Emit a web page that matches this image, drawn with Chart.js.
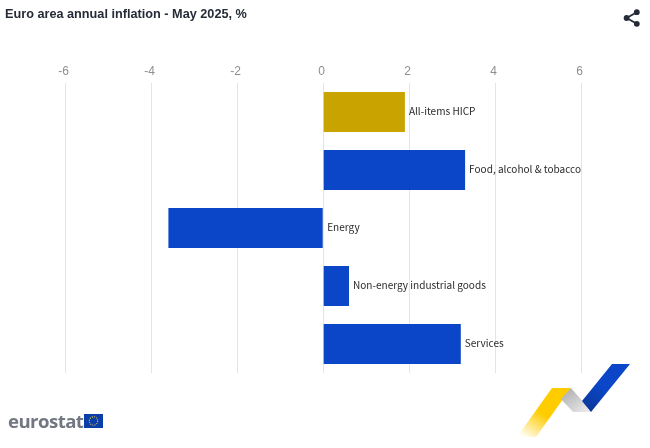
<!DOCTYPE html>
<html>
<head>
<meta charset="utf-8">
<style>
html,body{margin:0;padding:0;background:#fff;width:650px;height:448px;overflow:hidden}
#wrap{position:relative;width:650px;height:448px}
#c{position:absolute;left:0;top:0}
#title{position:absolute;left:5px;top:7px;font:bold 12.7px "Liberation Sans",Arial,sans-serif;color:#262b38;white-space:nowrap}
#brand{position:absolute;left:8px;top:410px;font:700 18.6px "Open Sans","Liberation Sans",sans-serif;letter-spacing:-.55px;color:#737782;line-height:22px}
svg{position:absolute}
</style>
</head>
<body>
<div id="wrap">
<canvas id="c" width="650" height="448"></canvas>
<div id="title">Euro area annual inflation - May 2025, %</div>
<svg style="left:622px;top:8px" width="20" height="20" viewBox="0 0 20 20">
  <path d="M14.8 4.2 4.6 10l10.2 5.8" fill="none" stroke="#262b38" stroke-width="1.8"/>
  <circle cx="14.8" cy="4.2" r="2.9" fill="#262b38"/><circle cx="4.6" cy="10" r="2.9" fill="#262b38"/><circle cx="14.8" cy="15.8" r="2.9" fill="#262b38"/>
</svg>
<div id="brand">eurostat</div>
<svg style="left:84px;top:414px" width="19" height="14" viewBox="0 0 19 14">
  <rect width="19" height="14" fill="#0b3ea8"/>
  <circle cx="9.5" cy="7" r="4.2" fill="none" stroke="#e5c84a" stroke-width="1.1" stroke-dasharray="1 1.2"/>
</svg>
<svg style="left:510px;top:360px" width="130" height="85" viewBox="0 0 130 85">
  <defs>
    <linearGradient id="gy" x1="0.1" y1="1" x2="0.65" y2="0.25"><stop offset="0" stop-color="#ffcc00" stop-opacity="0"/><stop offset=".65" stop-color="#ffcc00"/></linearGradient>
    <linearGradient id="gg" x1="0" y1="0" x2="1" y2="1"><stop offset="0" stop-color="#a9a9a9"/><stop offset="1" stop-color="#f0f0f2"/></linearGradient>
    <linearGradient id="gb" x1="0.1" y1="1" x2="0.8" y2="0"><stop offset="0" stop-color="#0a3596"/><stop offset=".5" stop-color="#0b46c8"/></linearGradient>
  </defs>
  <path d="M7 77 42 28 61 28 26 77Z" fill="url(#gy)"/>
  <path d="M61 28 82 52 63 52 51 39Z" fill="url(#gg)"/>
  <path d="M72 41 102 4 120 4 81 52 Z" fill="url(#gb)"/>
</svg>
</div>
<script src="https://cdn.jsdelivr.net/npm/chart.js@4"></script>
<script>
const categories = ["All-items HICP", "Food, alcohol & tobacco", "Energy", "Non-energy industrial goods", "Services"];
const inflationValues = [1.9, 3.3, -3.6, 0.6, 3.2];
const barColors = ["#c9a400", "#0b46c8", "#0b46c8", "#0b46c8", "#0b46c8"];
const tickValues = [-6, -4, -2, 0, 2, 4, 6];

const barLabels = {
  id: "barLabels",
  afterDatasetsDraw(chart) {
    const { ctx, scales: { x, y } } = chart;
    ctx.save();
    ctx.font = '10.05px "Noto Sans CJK SC","Noto Sans",sans-serif';
    ctx.fillStyle = "#2a2a2a";
    ctx.textAlign = "left";
    ctx.textBaseline = "middle";
    categories.forEach((name, i) => {
      ctx.fillText(name, x.getPixelForValue(Math.max(0, inflationValues[i])) + 4, y.getPixelForValue(i) - 1);
    });
    ctx.restore();
  }
};

new Chart(document.getElementById("c"), {
  type: "bar",
  data: {
    labels: categories,
    datasets: [{
      data: inflationValues,
      backgroundColor: barColors,
      borderWidth: 0,
      categoryPercentage: 1,
      barPercentage: 0.69
    }]
  },
  options: {
    indexAxis: "y",
    responsive: false,
    animation: false,
    devicePixelRatio: 1,
    layout: { padding: { left: 65.2, right: 68.8, top: 0, bottom: 75 } },
    plugins: { legend: { display: false }, title: { display: false }, tooltip: { enabled: false } },
    scales: {
      x: {
        position: "top",
        min: -6,
        max: 6,
        afterFit(s) { s.height = 83; },
        afterBuildTicks(s) { s.ticks = tickValues.map(v => ({ value: v })); },
        grid: { color: "#e4e5e8", lineWidth: 1, drawTicks: false, tickLength: 0 },
        border: { display: false },
        ticks: {
          color: "#8f8f8f",
          font: { family: '"Liberation Sans",Arial,sans-serif', size: 12 },
          padding: 4,
          labelOffset: -1.5,
          maxRotation: 0
        }
      },
      y: { display: false }
    }
  },
  plugins: [barLabels]
});
</script>
</body>
</html>
